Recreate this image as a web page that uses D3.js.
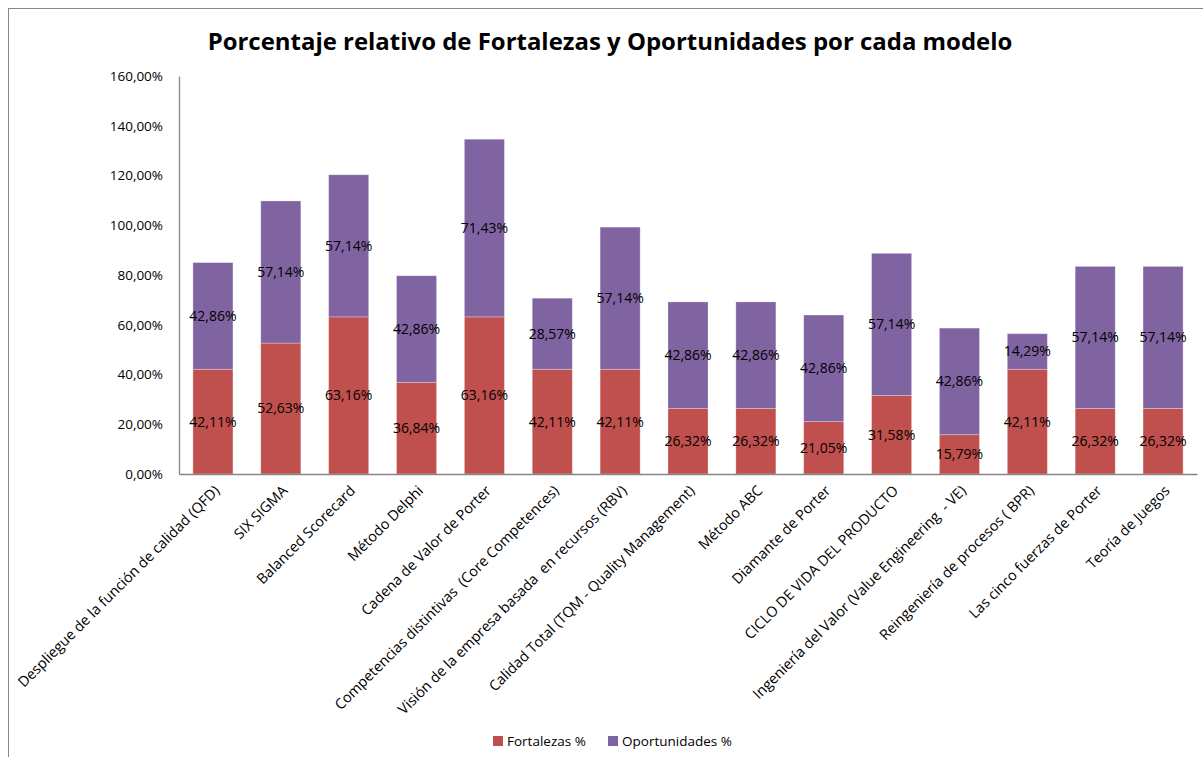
<!DOCTYPE html>
<html>
<head>
<meta charset="utf-8">
<script src="https://cdn.jsdelivr.net/npm/d3@7"></script>
<style>
  body { margin: 0; background: #fff; }
  text { font-family: "Open Sans", "Liberation Sans", sans-serif; fill: #000; }
</style>
</head>
<body>
<div id="chart"></div>
<script>
const categories = [
  'Despliegue de la función de calidad (QFD)',
  'SIX SIGMA',
  'Balanced Scorecard',
  'Método Delphi',
  'Cadena de Valor de Porter',
  'Competencias distintivas  (Core Competences)',
  'Visión de la empresa basada  en recursos (RBV)',
  'Calidad Total (TQM - Quality Management)',
  'Método ABC',
  'Diamante de Porter',
  'CICLO DE VIDA DEL PRODUCTO',
  'Ingeniería del Valor (Value Engineering  - VE)',
  'Reingeniería de procesos ( BPR)',
  'Las cinco fuerzas de Porter',
  'Teoría de Juegos'
]
const fortalezas = [42.11, 52.63, 63.16, 36.84, 63.16, 42.11, 42.11, 26.32, 26.32, 21.05, 31.58, 15.79, 42.11, 26.32, 26.32]
const oportunidades = [42.86, 57.14, 57.14, 42.86, 71.43, 28.57, 57.14, 42.86, 42.86, 42.86, 57.14, 42.86, 14.29, 57.14, 57.14]
const yTicks = [0, 20, 40, 60, 80, 100, 120, 140, 160]
const seriesNames = ['Fortalezas %', 'Oportunidades %']
const colors = ['#C0504D', '#8064A2']

const width = 1203, height = 757
const margin = { left: 179, right: 6, top: 76, bottom: 283 }

const svg = d3.select('#chart').append('svg')
  .attr('width', width)
  .attr('height', height)

// outer frame of the chart
svg.append('rect')
  .attr('x', 8.5).attr('y', 8.5)
  .attr('width', 1210).attr('height', 780)
  .attr('fill', 'none')
  .attr('stroke', '#868686')

const fmt = v => d3.format('.2f')(v).replace('.', ',') + '%'

const x = d3.scaleBand()
  .domain(categories)
  .range([margin.left, width - margin.right])
  .paddingInner(0.41)
  .paddingOuter(0.205)

const y = d3.scaleLinear()
  .domain([0, 160])
  .range([height - margin.bottom, margin.top])

const rows = categories.map((c, i) => ({ cat: c, f: fortalezas[i], o: oportunidades[i] }))
const stack = d3.stack().keys(['f', 'o'])(rows)

// title, shrunk to fit the width it has in the picture
const title = svg.append('text')
  .attr('x', 610).attr('y', 50)
  .attr('text-anchor', 'middle')
  .style('font-weight', 'bold')
  .style('font-size', '24px')
  .text('Porcentaje relativo de Fortalezas y Oportunidades por cada modelo')
const tw = title.node().getComputedTextLength()
title.style('font-size', (24 * 805 / tw) + 'px')

// bars
const groups = svg.selectAll('g.series')
  .data(stack)
  .enter()
  .append('g')
  .attr('class', 'series')
  .attr('fill', (d, i) => colors[i])

groups.selectAll('rect')
  .data(d => d)
  .enter()
  .append('rect')
  .attr('x', d => x(d.data.cat))
  .attr('y', d => y(d[1]))
  .attr('width', x.bandwidth())
  .attr('height', d => y(d[0]) - y(d[1]))
  .attr('stroke', '#fff')
  .attr('stroke-opacity', 0.35)
  .attr('stroke-width', 0.8)

// value labels
groups.selectAll('text')
  .data(d => d)
  .enter()
  .append('text')
  .attr('x', d => x(d.data.cat) + x.bandwidth() / 2)
  .attr('y', d => y((d[0] + d[1]) / 2))
  .attr('dy', '0.35em')
  .attr('text-anchor', 'middle')
  .style('font-size', '14px')
  .text(d => fmt(d[1] - d[0]))

// y axis
const yAxis = svg.append('g')
  .attr('transform', `translate(${margin.left},0)`)
  .call(d3.axisLeft(y).tickValues(yTicks).tickFormat(fmt).tickSize(0).tickPadding(16))
yAxis.select('.domain').attr('stroke', '#868686').attr('stroke-width', 1.3)
yAxis.selectAll('text').style('font-size', '13.5px').style('font-family', '"Open Sans", sans-serif')

// x axis
const xAxis = svg.append('g')
  .attr('transform', `translate(0,${height - margin.bottom})`)
  .call(d3.axisBottom(x).tickSize(0).tickSizeOuter(0).tickFormat(''))
xAxis.select('.domain').attr('stroke', '#868686').attr('stroke-width', 1.3)

svg.append('g').selectAll('text')
  .data(categories)
  .enter()
  .append('text')
  .attr('transform', d => `translate(${x(d) + x.bandwidth() / 2 + 4},${height - margin.bottom + 14}) rotate(-45)`)
  .attr('text-anchor', 'end')
  .attr('dy', '0.35em')
  .style('font-size', '14.4px')
  .style('white-space', 'pre')
  .text(d => d)

// legend
const legend = svg.append('g')
const lx = [493, 608]
seriesNames.forEach((name, i) => {
  legend.append('rect')
    .attr('x', lx[i]).attr('y', 736)
    .attr('width', 10).attr('height', 10)
    .attr('fill', colors[i])
  legend.append('text')
    .attr('x', lx[i] + 14).attr('y', 741)
    .attr('dy', '0.35em')
    .style('font-size', '13.5px')
    .text(name)
})
</script>
</body>
</html>
